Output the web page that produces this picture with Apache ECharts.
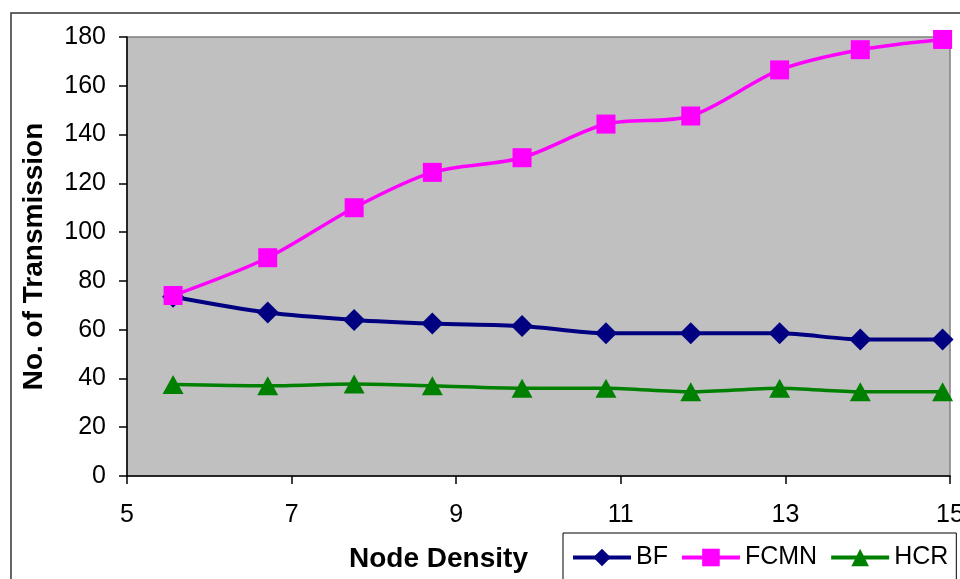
<!DOCTYPE html>
<html><head><meta charset="utf-8">
<script src="https://cdn.jsdelivr.net/npm/echarts@6/dist/echarts.min.js"></script>
<style>html,body{margin:0;padding:0;background:#fff}#c{width:960px;height:579px}</style>
</head><body><div id="c"></div>
<script>
var nodeDensity = [5.56, 6.71, 7.76, 8.71, 9.80, 10.82, 11.85, 12.93, 13.91, 14.91];
var bf   = [73.5, 67, 64, 62.5, 61.5, 58.5, 58.5, 58.5, 56, 56];
var fcmn = [74, 89.5, 110, 124.5, 130.5, 144.3, 147.6, 166.5, 174.8, 179];
var hcr  = [37.5, 37, 37.7, 37, 36, 36, 34.5, 36, 34.5, 34.5];
var xTitle = 'Node Density';
var yTitle = 'No. of Transmission';

function pairs(ys){ return nodeDensity.map(function(x,i){return [x, ys[i]];}); }
var font = 'Liberation Sans, Arial, sans-serif';
var chart = echarts.init(document.getElementById('c'));
chart.setOption({
  animation: false,
  graphic: [{type:'rect', shape:{x:11, y:13, width:1000, height:1000}, style:{fill:'none', stroke:'#333', lineWidth:1.5}, z:-1}],
  grid: {left:127, top:37, right:10, bottom:103, containLabel:false, outerBoundsMode:'none',
    show:true, backgroundColor:'#C0C0C0', borderColor:'#808080', borderWidth:1.5},
  xAxis: {type:'value', min:5, max:15, interval:2,
    name: xTitle, nameLocation:'middle', nameGap:69,
    nameTextStyle:{fontFamily:font, fontSize:28, fontWeight:'bold', color:'#000', padding:[0,200,0,0]},
    axisLine:{show:true, onZero:false, lineStyle:{color:'#000', width:1.5}},
    axisTick:{show:true, inside:false, length:8, lineStyle:{color:'#000', width:1.5}},
    axisLabel:{fontFamily:font, fontSize:25, color:'#000', margin:27},
    splitLine:{show:false}},
  yAxis: {type:'value', min:0, max:180, interval:20,
    name: yTitle, nameLocation:'middle', nameGap:79, nameRotate:90,
    nameTextStyle:{fontFamily:font, fontSize:28, fontWeight:'bold', color:'#000'},
    axisLine:{show:true, lineStyle:{color:'#000', width:1.5}},
    axisTick:{show:true, inside:false, length:8, lineStyle:{color:'#000', width:1.5}},
    axisLabel:{fontFamily:font, fontSize:25, color:'#000', margin:21},
    splitLine:{show:false}},
  legend: {left:563, top:533, orient:'horizontal', itemWidth:58, itemHeight:22, itemGap:12,
    padding:[12,8,20,8], borderColor:'#000', borderWidth:1, backgroundColor:'#fff',
    lineStyle:{width:4},
    textStyle:{fontFamily:font, fontSize:25, color:'#000'},
    data:['BF','FCMN','HCR']},
  series: [
    {name:'BF', type:'line', data:pairs(bf), smooth:0.3, symbol:'diamond', symbolSize:[22,22],
     lineStyle:{color:'#000080', width:4}, itemStyle:{color:'#000080'}, z:2},
    {name:'FCMN', type:'line', data:pairs(fcmn), smooth:0.3, symbol:'rect', symbolSize:19,
     lineStyle:{color:'#FF00FF', width:3.5}, itemStyle:{color:'#FF00FF'}, z:3},
    {name:'HCR', type:'line', data:pairs(hcr), smooth:0.3, symbol:'triangle', symbolSize:[21,19],
     lineStyle:{color:'#008000', width:3.5}, itemStyle:{color:'#008000'}, z:2}
  ]
});
</script></body></html>
